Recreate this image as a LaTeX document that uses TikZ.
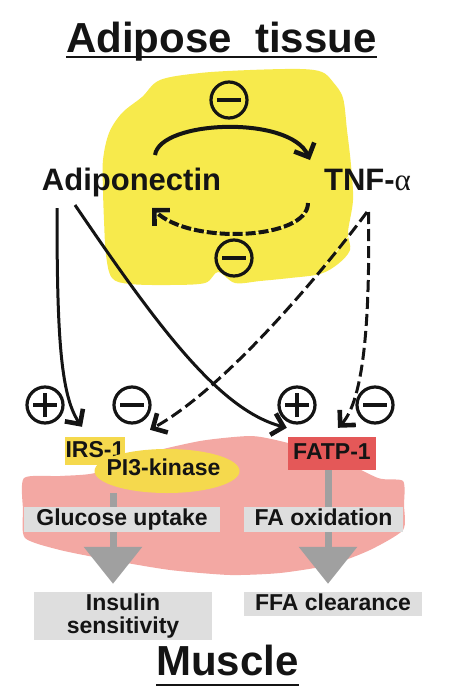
\documentclass[tikz,border=0pt]{standalone}
\usepackage{fontspec}
\setmainfont{Liberation Sans}
\newfontfamily\serifalpha{Liberation Serif}
\usetikzlibrary{arrows.meta,shapes.geometric,calc}
\definecolor{blobyellow}{RGB}{247,234,76}
\definecolor{muspink}{RGB}{243,168,163}
\definecolor{piyellow}{RGB}{245,217,77}
\definecolor{fatpred}{RGB}{228,88,88}
\definecolor{boxgrey}{RGB}{222,222,222}
\definecolor{arrgrey}{RGB}{160,160,160}
\definecolor{ink}{RGB}{20,20,20}
\pgfdeclarelayer{bg}
\pgfdeclarelayer{mid}
\pgfsetlayers{bg,mid,main}
\begin{document}
\begin{tikzpicture}[x=1pt,y=-1pt,
  bigtitle/.style={font=\fontsize{42}{48}\selectfont\bfseries, text=ink, inner sep=0pt, anchor=base},
  mol/.style={font=\fontsize{31}{36}\selectfont\bfseries, text=ink, inner sep=0pt, anchor=base},
  lab/.style={font=\fontsize{23}{23}\selectfont\bfseries, text=ink, inner sep=0pt},
  tag/.style={lab, rectangle, text height=17pt, text depth=5pt},
  signc/.style={circle, draw=ink, line width=3.2pt, minimum size=36pt, inner sep=0pt},
  minusc/.style={signc, path picture={\draw[ink,line width=3.8pt] ([xshift=-12pt]path picture bounding box.center) -- ([xshift=12pt]path picture bounding box.center);}},
  plusc/.style={signc, path picture={\draw[ink,line width=3.8pt] ([xshift=-12pt]path picture bounding box.center) -- ([xshift=12pt]path picture bounding box.center) ([yshift=-12pt]path picture bounding box.center) -- ([yshift=12pt]path picture bounding box.center);}},
  act/.style={draw=ink, line width=3pt, -{Straight Barb[length=11pt,width=22pt,line width=4.6pt]}},
  inh/.style={act, dash pattern=on 12pt off 5pt, preaction={draw=white, solid}},
  flow/.style={draw=arrgrey, line width=7pt, -{Triangle[length=37pt,width=57pt]}},
]
\useasboundingbox (0,0) rectangle (457,699);

% titles and molecules
\node[bigtitle] (title) at (221.5,52) {Adipose\ \ tissue};
\draw[ink, line width=1.8pt] ([yshift=-5pt]title.base west) -- ([yshift=-5pt]title.base east);
\node[mol] (adipo) at (131.5,190) {Adiponectin};
\node[mol] (tnf) at (367.5,190) {TNF-{\serifalpha\mdseries α}};

% signs
\node[minusc] (m1) at (229,100) {};
\node[minusc] (m2) at (234,258) {};
\node[plusc] (s1) at (45,405) {};
\node[minusc] (s2) at (132,405) {};
\node[plusc] (s3) at (297,405) {};
\node[minusc] (s4) at (375,405) {};

% muscle boxes
\node[tag, fill=boxgrey, minimum width=196pt, minimum height=25pt] (glu) at (122,519.5) {Glucose uptake};
\node[tag, fill=boxgrey, minimum width=159pt, minimum height=25pt] (fao) at (323.5,519.5) {FA oxidation};
\node[lab, fill=boxgrey, align=center, minimum width=178pt, minimum height=48pt] (ins) at (123,616) {Insulin\\sensitivity};
\node[tag, fill=boxgrey, minimum width=178pt, minimum height=24pt] (ffa) at (333,604) {FFA clearance};
\node[tag, fill=piyellow, minimum width=60pt, minimum height=28pt] (irs) at (95,451) {IRS-1};
\node[ellipse, fill=piyellow, minimum width=145pt, minimum height=44pt, inner sep=0pt] (pi3) at (167,471) {};
\node[lab, anchor=base] (pi3t) at (163.5,475) {PI3-kinase};
\node[tag, fill=fatpred, minimum width=88pt, minimum height=33pt] (fatp) at (332,453.5) {FATP-1};
\node[bigtitle] (muscle) at (227.5,675) {Muscle};
\draw[ink, line width=1.8pt] ([yshift=-10pt]muscle.base west) -- ([yshift=-10pt]muscle.base east);

% backgrounds
\begin{pgfonlayer}{bg}
\fill[blobyellow] plot[smooth cycle, tension=0.55] coordinates {
 (160,80) (200,73) (250,70) (300,69) (322,72) (333,82) (343,98) (347,130)
 (351,165) (353,200) (348,232) (350,250) (338,264) (320,274) (290,278)
 (260,281) (235,283) (218,272) (205,283) (170,285) (130,284) (112,278)
 (106,255) (104,220) (103,190) (103,160) (109,133) (122,113) (142,97)};
\fill[muspink] plot[smooth cycle, tension=0.4] coordinates {
 (24,478) (60,476) (95,473) (140,455) (200,441) (250,436) (280,441)
 (330,455) (378,478) (403,481) (404,505) (403,530) (370,550) (330,565)
 (280,573) (230,575) (170,570) (110,560) (60,550) (25,538) (23,510)};
\end{pgfonlayer}

\begin{pgfonlayer}{mid}
\draw[flow] ([xshift=-54pt]pi3.south) -- ([shift={(-10,-8)}]ins.north);
\draw[flow] ([xshift=-4pt]fatp.south) -- ([shift={(-5,-8)}]ffa.north);
\end{pgfonlayer}

% inhibitory (dashed) connectors
\draw[inh, line width=4pt, dash pattern=on 10pt off 3pt] ([shift={(-59.5,13)}]tnf.base) .. controls (308,240) and (190,245) .. ([shift={(20.5,18)}]adipo.base);
\draw[inh] ([shift={(-0.5,22)}]tnf.base) .. controls (330,262) and (230,385) .. ([shift={(-17,-19)}]pi3.north);
\draw[inh] ([shift={(1,22)}]tnf.base) .. controls (370,320) and (364,400) .. ([shift={(6,-9)}]fatp.north);

% activating (solid) connectors
\draw[act, line width=4pt] ([shift={(23.5,-35)}]adipo.base) .. controls (160,120) and (290,115) .. ([shift={(-57.5,-30)}]tnf.base);
\draw[act] ([shift={(-74.5,18)}]adipo.base) .. controls (57,330) and (60,395) .. ([shift={(-13,-10)}]irs.north);
\draw[act] ([shift={(-56.5,15)}]adipo.base) .. controls (160,330) and (220,410) .. ([shift={(-1,-9)}]fatp.north west);
\end{tikzpicture}
\end{document}
